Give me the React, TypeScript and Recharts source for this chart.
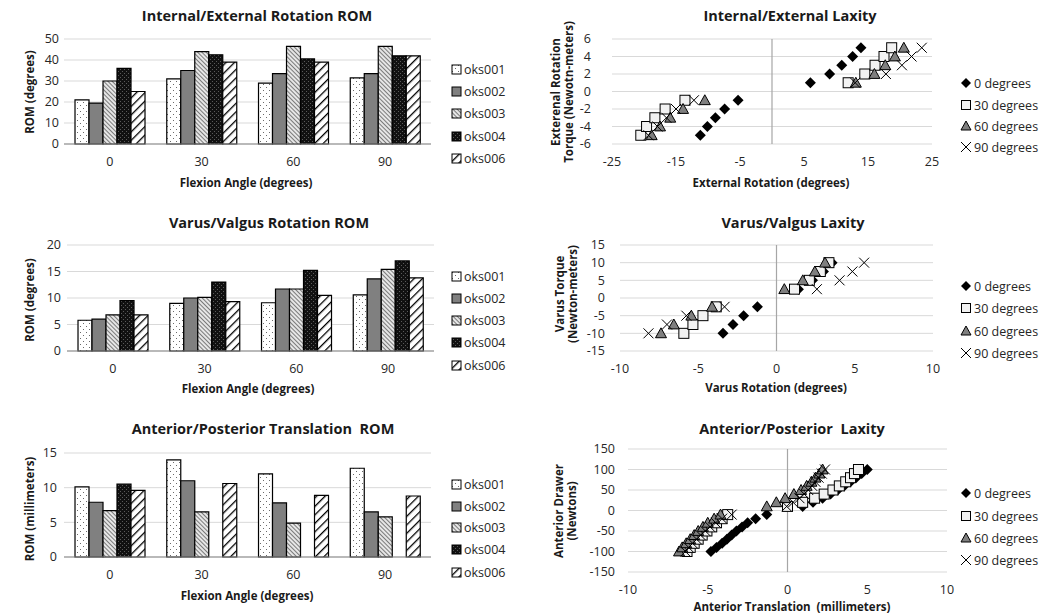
import React from "react";
import { Bar, BarChart, CartesianGrid, ReferenceLine, Scatter, ScatterChart, XAxis, YAxis } from "recharts";

const FONT = '"Open Sans", "Liberation Sans", Arial, sans-serif';

// ---- bar charts ----
const flexionAngles = ["0", "30", "60", "90"];
const subjects = ["oks001", "oks002", "oks003", "oks004", "oks006"];

// Internal/External Rotation ROM (degrees)
const ieRom001 = [21, 31, 29, 31.5];
const ieRom002 = [19.5, 35, 33.5, 33.5];
const ieRom003 = [30, 44, 46.5, 46.5];
const ieRom004 = [36, 42.5, 40.5, 42];
const ieRom006 = [25, 39, 39, 42];

// Varus/Valgus Rotation ROM (degrees)
const vvRom001 = [5.8, 9, 9.1, 10.6];
const vvRom002 = [6, 10, 11.7, 13.6];
const vvRom003 = [6.8, 10.1, 11.7, 15.4];
const vvRom004 = [9.5, 13, 15.2, 17];
const vvRom006 = [6.8, 9.3, 10.5, 13.8];

// Anterior/Posterior Translation ROM (millimeters)
const apRom001 = [10.1, 14, 12, 12.8];
const apRom002 = [7.9, 11, 7.8, 6.5];
const apRom003 = [6.7, 6.5, 4.9, 5.8];
const apRom004 = [10.5, null, null, null];
const apRom006 = [9.6, 10.6, 8.9, 8.8];

// ---- scatter charts ----
const laxitySeries = ["0 degrees", "30 degrees", "60 degrees", "90 degrees"];

// Internal/External laxity: torque (N-m) vs external rotation (deg)
const ieTorque = [-5, -4, -3, -2, -1, 1, 2, 3, 4, 5];
const ieRot0 = [-11.2, -10.1, -8.85, -7.4, -5.3, 6.0, 9.0, 10.9, 12.6, 13.9];
const ieRot30 = [-20.5, -19.6, -18.3, -16.7, -13.6, 11.9, 14.5, 16.1, 17.5, 18.7];
const ieRot60 = [-18.8, -17.5, -15.9, -13.9, -10.5, 13.1, 16.0, 17.7, 19.2, 20.6];
const ieRot90 = [-19.3, -17.9, -16.5, -15.0, -12.2, 13.0, 17.8, 20.3, 21.8, 23.4];

// Varus/Valgus laxity: torque (N-m) vs varus rotation (deg)
const vvTorque = [-10, -7.5, -5, -2.5, 2.5, 5, 7.5, 10];
const vvRot0 = [-3.42, -2.78, -2.1, -1.22, 1.4, 2.3, 3.0, 3.55];
const vvRot30 = [-5.92, -5.34, -4.7, -3.85, 1.15, 2.1, 2.8, 3.35];
const vvRot60 = [-7.38, -6.56, -5.44, -4.12, 0.5, 1.68, 2.45, 3.1];
const vvRot90 = [-8.18, -7.0, -5.76, -3.32, 2.58, 4.03, 4.85, 5.6];

// Anterior/Posterior laxity: drawer force (N) vs translation (mm)
const apForce = [-100, -90, -80, -70, -60, -50, -40, -30, -20, -10, 10, 20, 30, 40, 50, 60, 70, 80, 90, 100];
const apTrans0 = [-4.8, -4.45, -4.1, -3.8, -3.5, -3.2, -2.85, -2.5, -2.0, -1.3, 0.95, 1.6, 2.2, 2.7, 3.15, 3.55, 3.95, 4.3, 4.65, 5.0];
const apTrans30 = [-6.3, -6.1, -5.85, -5.6, -5.35, -5.05, -4.75, -4.45, -4.1, -3.75, 0.0, 0.95, 1.7, 2.3, 2.85, 3.25, 3.65, 3.95, 4.2, 4.45];
const apTrans60 = [-6.8, -6.6, -6.35, -6.1, -5.85, -5.6, -5.3, -5.0, -4.6, -4.2, -1.3, -0.7, -0.15, 0.4, 0.85, 1.2, 1.5, 1.75, 2.0, 2.2];
const apTrans90 = [-6.4, -6.2, -5.95, -5.7, -5.45, -5.15, -4.85, -4.5, -4.1, -3.5, -0.05, 0.35, 0.75, 1.05, 1.3, 1.55, 1.75, 1.95, 2.15, 2.35];

const subjectFills = ["url(#fillDots)", "#808080", "url(#fillHatch)", "url(#fillDark)", "url(#fillStripe)"];

type Box = { l: number; t: number; r: number; b: number };

const PAD_L = 60;
const PAD_T = 10;
const PAD_R = 10;
const PAD_B = 40;

function frame(box: Box) {
  return {
    left: box.l - PAD_L,
    top: box.t - PAD_T,
    width: box.r - box.l + PAD_L + PAD_R,
    height: box.b - box.t + PAD_T + PAD_B,
  };
}

function rows(values: Array<Array<number | null>>) {
  return flexionAngles.map((angle, i) => {
    const row: Record<string, any> = { angle };
    subjects.forEach((s, k) => (row[s] = values[k][i]));
    return row;
  });
}

function points(xs: number[], ys: number[]) {
  return xs.map((x, i) => ({ x, y: ys[i] }));
}

const tickStyle = { fontFamily: FONT, fontSize: 12.5, fill: "#262626" };

function Text({ x, y, children, size = 11.5, bold = true }: any) {
  return (
    <div
      style={{
        position: "absolute",
        left: x,
        top: y,
        transform: "translate(-50%, -50%)",
        whiteSpace: "pre",
        fontFamily: FONT,
        fontSize: size,
        fontWeight: bold ? 700 : 400,
        color: "#1a1a1a",
      }}
    >
      {children}
    </div>
  );
}

function VText({ x, y, lines, size = 11.5 }: any) {
  return (
    <div
      style={{
        position: "absolute",
        left: x,
        top: y,
        transform: "translate(-50%, -50%) rotate(-90deg)",
        whiteSpace: "nowrap",
        textAlign: "center",
        fontFamily: FONT,
        fontSize: size,
        fontWeight: 700,
        lineHeight: "13px",
        color: "#1a1a1a",
      }}
    >
      {lines.map((l: string) => (
        <div key={l}>{l}</div>
      ))}
    </div>
  );
}

// ---- markers ----
function Diamond({ cx, cy, r = 5.5 }: any) {
  return <polygon fill="#000" points={`${cx},${cy - r} ${cx + r},${cy} ${cx},${cy + r} ${cx - r},${cy}`} />;
}
function Square({ cx, cy, r = 5 }: any) {
  return <rect fill="#f2f2f2" height={2 * r} stroke="#000" strokeWidth={1} width={2 * r} x={cx - r} y={cy - r} />;
}
function Triangle({ cx, cy, r = 5.5 }: any) {
  return (
    <polygon
      fill="#7f7f7f"
      points={`${cx},${cy - r} ${cx + r},${cy + r * 0.8} ${cx - r},${cy + r * 0.8}`}
      stroke="#000"
      strokeWidth={1}
    />
  );
}
function Cross({ cx, cy, r = 5 }: any) {
  return (
    <g stroke="#000" strokeWidth={1}>
      <line x1={cx - r} x2={cx + r} y1={cy - r} y2={cy + r} />
      <line x1={cx - r} x2={cx + r} y1={cy + r} y2={cy - r} />
    </g>
  );
}
const markerShapes = [Diamond, Square, Triangle, Cross];

function BarPanel({ box, title, titlePos, yTitle, yTitlePos, xTitlePos, values, domain, ticks, legendX, legendY, yGap }: any) {
  const f = frame(box);
  return (
    <>
      <Text size={14.5} x={titlePos[0]} y={titlePos[1]}>{title}</Text>
      <VText lines={[yTitle]} x={yTitlePos[0]} y={yTitlePos[1]} />
      <Text x={xTitlePos[0]} y={xTitlePos[1]}>Flexion Angle (degrees)</Text>
      <div style={{ position: "absolute", left: f.left, top: f.top }}>
        <BarChart
          barCategoryGap="12%"
          barGap={0}
          data={rows(values)}
          height={f.height}
          margin={{ top: PAD_T, right: PAD_R, left: 0, bottom: 0 }}
          width={f.width}
        >
          <CartesianGrid stroke="#d9d9d9" vertical={false} />
          <XAxis
            axisLine={{ stroke: "#868686" }}
            dataKey="angle"
            height={PAD_B}
            interval={0}
            tick={tickStyle}
            tickLine={false}
            tickMargin={13}
            tickSize={0}
          />
          <YAxis
            axisLine={false}
            domain={domain}
            interval={0}
            tick={tickStyle}
            tickLine={false}
            tickMargin={yGap}
            tickSize={0}
            ticks={ticks}
            width={PAD_L}
          />
          {subjects.map((s, k) => (
            <Bar dataKey={s} fill={subjectFills[k]} isAnimationActive={false} key={s} stroke="#000" strokeWidth={1.2} />
          ))}
        </BarChart>
      </div>
      {subjects.map((s, k) => (
        <div key={s} style={{ position: "absolute", left: legendX, top: legendY[k] - 9, height: 18, display: "flex", alignItems: "center" }}>
          <svg height={11} style={{ marginRight: 2 }} width={11}>
            <rect fill={subjectFills[k]} height={9} stroke="#000" strokeWidth={1} width={9} x={1} y={1} />
          </svg>
          <span style={{ fontFamily: FONT, fontSize: 12.5, color: "#262626" }}>{s}</span>
        </div>
      ))}
    </>
  );
}

function ScatterPanel({ box, title, titlePos, yTitle, yTitlePos, xTitle, xTitlePos, series, xDomain, xTicks, yDomain, yTicks, legendY, yGap }: any) {
  const f = frame(box);
  return (
    <>
      <Text size={14.5} x={titlePos[0]} y={titlePos[1]}>{title}</Text>
      <VText lines={yTitle} x={yTitlePos[0]} y={yTitlePos[1]} />
      <Text x={xTitlePos[0]} y={xTitlePos[1]}>{xTitle}</Text>
      <div style={{ position: "absolute", left: f.left, top: f.top }}>
        <ScatterChart height={f.height} margin={{ top: PAD_T, right: PAD_R, left: 0, bottom: 0 }} width={f.width}>
          <CartesianGrid stroke="#d9d9d9" vertical={false} />
          <XAxis
            allowDataOverflow
            axisLine={false}
            dataKey="x"
            domain={xDomain}
            height={PAD_B}
            interval={0}
            tick={tickStyle}
            tickLine={false}
            tickMargin={13}
            tickSize={0}
            ticks={xTicks}
            type="number"
          />
          <YAxis
            allowDataOverflow
            axisLine={false}
            dataKey="y"
            domain={yDomain}
            interval={0}
            tick={tickStyle}
            tickLine={false}
            tickMargin={yGap}
            tickSize={0}
            ticks={yTicks}
            type="number"
            width={PAD_L}
          />
          <ReferenceLine stroke="#a6a6a6" strokeWidth={1.2} x={0} />
          {series.map((data: any, k: number) => {
            const M = markerShapes[k];
            return <Scatter data={data} isAnimationActive={false} key={laxitySeries[k]} name={laxitySeries[k]} shape={(p: any) => <M cx={p.cx} cy={p.cy} />} />;
          })}
        </ScatterChart>
      </div>
      {laxitySeries.map((s, k) => {
        const M = markerShapes[k];
        return (
          <div key={s} style={{ position: "absolute", left: 960, top: legendY[k] - 9, height: 18, display: "flex", alignItems: "center" }}>
            <svg height={12} style={{ marginRight: 2 }} width={12}>
              <M cx={6} cy={6} r={k === 1 ? 4.5 : 5} />
            </svg>
            <span style={{ fontFamily: FONT, fontSize: 12.5, color: "#262626" }}>{s}</span>
          </div>
        );
      })}
    </>
  );
}

function Patterns() {
  return (
    <svg height={0} style={{ position: "absolute", left: 0, top: 0 }} width={0}>
      <defs>
        <pattern height={6} id="fillDots" patternUnits="userSpaceOnUse" width={6}>
          <rect fill="#fff" height={6} width={6} />
          <rect fill="#6a6a6a" height={1} width={1} x={1} y={1} />
          <rect fill="#6a6a6a" height={1} width={1} x={4} y={4} />
        </pattern>
        <pattern height={3} id="fillHatch" patternTransform="rotate(-45)" patternUnits="userSpaceOnUse" width={3}>
          <rect fill="#e6e6e6" height={3} width={3} />
          <rect fill="#7a7a7a" height={3} width={1} />
        </pattern>
        <pattern height={4} id="fillDark" patternUnits="userSpaceOnUse" width={4}>
          <rect fill="#111" height={4} width={4} />
          <rect fill="#5a5a5a" height={1} width={1} x={0} y={0} />
          <rect fill="#5a5a5a" height={1} width={1} x={2} y={2} />
        </pattern>
        <pattern height={6} id="fillStripe" patternTransform="rotate(45)" patternUnits="userSpaceOnUse" width={6}>
          <rect fill="#fff" height={6} width={6} />
          <rect fill="#000" height={6} width={1.3} />
        </pattern>
      </defs>
    </svg>
  );
}

export default function App() {
  return (
    <div style={{ position: "absolute", left: 0, top: 0, width: 1050, height: 615, background: "#fff", overflow: "hidden" }}>
      <Patterns />
      <BarPanel
        box={{ l: 64, t: 39, r: 431, b: 144 }}
        domain={[0, 50]}
        legendX={451}
        legendY={[69, 91, 113, 136, 158]}
        ticks={[0, 10, 20, 30, 40, 50]}
        title="Internal/External Rotation ROM"
        titlePos={[257, 15]}
        values={[ieRom001, ieRom002, ieRom003, ieRom004, ieRom006]}
        xTitlePos={[246, 182]}
        yGap={5}
        yTitle="ROM (degrees)"
        yTitlePos={[29, 92]}
      />
      <BarPanel
        box={{ l: 67, t: 245, r: 434, b: 351 }}
        domain={[0, 20]}
        legendX={451}
        legendY={[276, 298, 320, 342, 365]}
        ticks={[0, 5, 10, 15, 20]}
        title="Varus/Valgus Rotation ROM"
        titlePos={[269, 222]}
        values={[vvRom001, vvRom002, vvRom003, vvRom004, vvRom006]}
        xTitlePos={[248, 388]}
        yGap={6}
        yTitle="ROM (degrees)"
        yTitlePos={[29, 300]}
      />
      <BarPanel
        box={{ l: 64, t: 453, r: 431, b: 557 }}
        domain={[0, 15]}
        legendX={451}
        legendY={[484, 506, 527, 549, 572]}
        ticks={[0, 5, 10, 15]}
        title="Anterior/Posterior Translation  ROM"
        titlePos={[263, 428]}
        values={[apRom001, apRom002, apRom003, apRom004, apRom006]}
        xTitlePos={[247, 595]}
        yGap={7}
        yTitle="ROM (millimeters)"
        yTitlePos={[29, 509]}
      />
      <ScatterPanel
        box={{ l: 612, t: 39, r: 932, b: 144 }}
        legendY={[83, 105, 126, 147]}
        series={[points(ieRot0, ieTorque), points(ieRot30, ieTorque), points(ieRot60, ieTorque), points(ieRot90, ieTorque)]}
        title="Internal/External Laxity"
        titlePos={[790, 15]}
        xDomain={[-25, 25]}
        xTicks={[-25, -15, -5, 5, 15, 25]}
        xTitle="External Rotation (degrees)"
        xTitlePos={[771, 182]}
        yDomain={[-6, 6]}
        yGap={21}
        yTicks={[-6, -4, -2, 0, 2, 4, 6]}
        yTitle={["Exterenal Rotation", "Torque (Newotn-meters)"]}
        yTitlePos={[562, 92]}
      />
      <ScatterPanel
        box={{ l: 620, t: 245, r: 933, b: 351 }}
        legendY={[286, 308, 331, 353]}
        series={[points(vvRot0, vvTorque), points(vvRot30, vvTorque), points(vvRot60, vvTorque), points(vvRot90, vvTorque)]}
        title="Varus/Valgus Laxity"
        titlePos={[793, 222]}
        xDomain={[-10, 10]}
        xTicks={[-10, -5, 0, 5, 10]}
        xTitle="Varus Rotation (degrees)"
        xTitlePos={[776, 387]}
        yDomain={[-15, 15]}
        yGap={15}
        yTicks={[-15, -10, -5, 0, 5, 10, 15]}
        yTitle={["Varus Torque", "(Newton-meters)"]}
        yTitlePos={[566, 294]}
      />
      <ScatterPanel
        box={{ l: 628, t: 449, r: 947, b: 572 }}
        legendY={[493, 516, 538, 560]}
        series={[points(apTrans0, apForce), points(apTrans30, apForce), points(apTrans60, apForce), points(apTrans90, apForce)]}
        title="Anterior/Posterior  Laxity"
        titlePos={[792, 428]}
        xDomain={[-10, 10]}
        xTicks={[-10, -5, 0, 5, 10]}
        xTitle="Anterior Translation  (millimeters)"
        xTitlePos={[792, 606]}
        yDomain={[-150, 150]}
        yGap={13}
        yTicks={[-150, -100, -50, 0, 50, 100, 150]}
        yTitle={["Anterior Drawer", "(Newtons)"]}
        yTitlePos={[565, 511]}
      />
    </div>
  );
}
